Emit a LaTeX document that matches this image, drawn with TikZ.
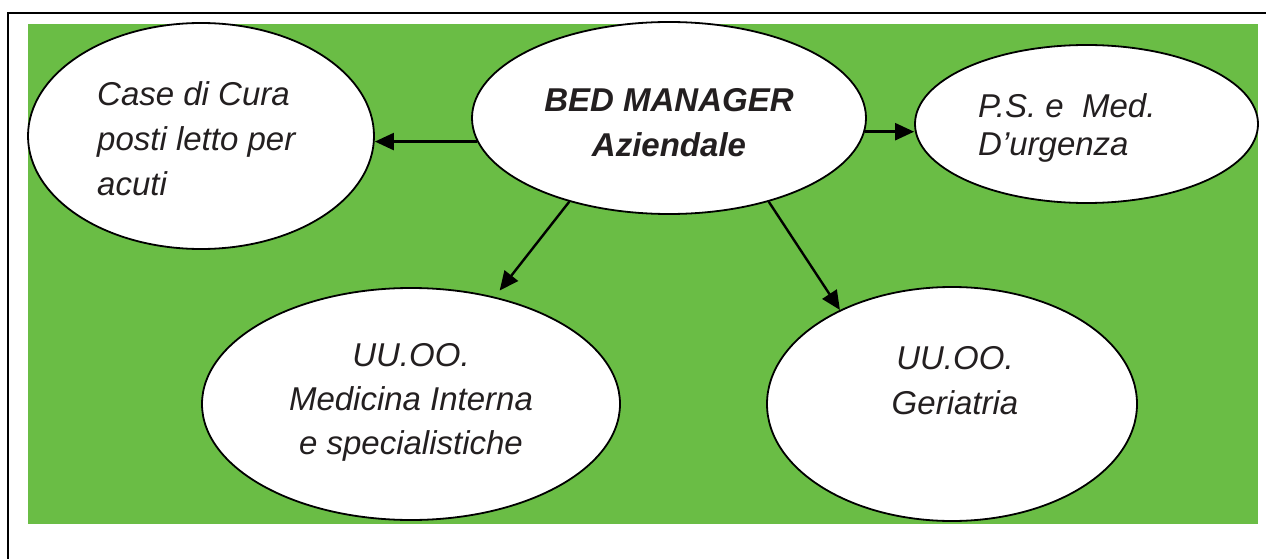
\documentclass[tikz,border=0pt]{standalone}
\usepackage{fontspec}
\setmainfont{Liberation Sans}
\usetikzlibrary{shapes.geometric, arrows.meta}

\definecolor{bggreen}{RGB}{106,189,69}
\definecolor{inkgray}{RGB}{35,31,32}

\begin{document}
\begin{tikzpicture}[
    x=1pt, y=-1pt,
    every node/.style={font=\itshape, text=inkgray},
    >={Triangle[length=19pt, width=17pt]},
    bubble/.style={ellipse, draw=black, fill=white, line width=1.8pt, inner sep=0pt},
    lbl/.style={inner sep=0pt, font=\fontsize{33}{45}\selectfont\itshape},
    link/.style={->, line width=2.4pt, black},
]
\useasboundingbox (0,0) rectangle (1266,559);

% === Frame and green panel ===
\fill[bggreen] (28,24) rectangle (1258,524);
\draw[line width=2.6pt] (8,570) -- (8,13) -- (1275,13);

% === Bubbles ===
\node[bubble, minimum width=346pt, minimum height=226pt] (case) at (201,136) {};
\node[bubble, minimum width=394pt, minimum height=192pt] (bed)  at (669,118) {};
\node[bubble, minimum width=343pt, minimum height=158pt] (ps)   at (1086.5,124) {};
\node[bubble, minimum width=418pt, minimum height=232pt] (med)  at (411,404) {};
\node[bubble, minimum width=370pt, minimum height=234pt] (ger)  at (952,404) {};

% === Texts ===
\node[lbl, align=left, anchor=west] (case-txt) at (97,139)
    {Case di Cura\\posti letto per\\acuti};
\node[lbl, align=center, font=\fontsize{33}{45}\selectfont\bfseries\itshape] (bed-txt) at (669,122.5)
    {BED MANAGER\\Aziendale};
\node[lbl, align=left, anchor=west, font=\fontsize{33}{38}\selectfont\itshape] (ps-txt) at (978,128)
    {P.S. e\ \ Med.\\D’urgenza};
\node[lbl, align=center, font=\fontsize{33}{44}\selectfont\itshape] (med-txt) at (411,402.5)
    {UU.OO.\\Medicina Interna\\e specialistiche};
\node[lbl, align=center] (ger-txt) at (955,381)
    {UU.OO.\\Geriatria};

% === Connectors ===
\draw[link] (bed.187) -- (bed.187 -| case.east);
\draw[link] (bed.356) -- (bed.356 -| ps.west);
\draw[link, shorten >=8pt] (bed.220) -- (med.52);
\draw[link] (bed.320) -- (ger.140);

\end{tikzpicture}
\end{document}
